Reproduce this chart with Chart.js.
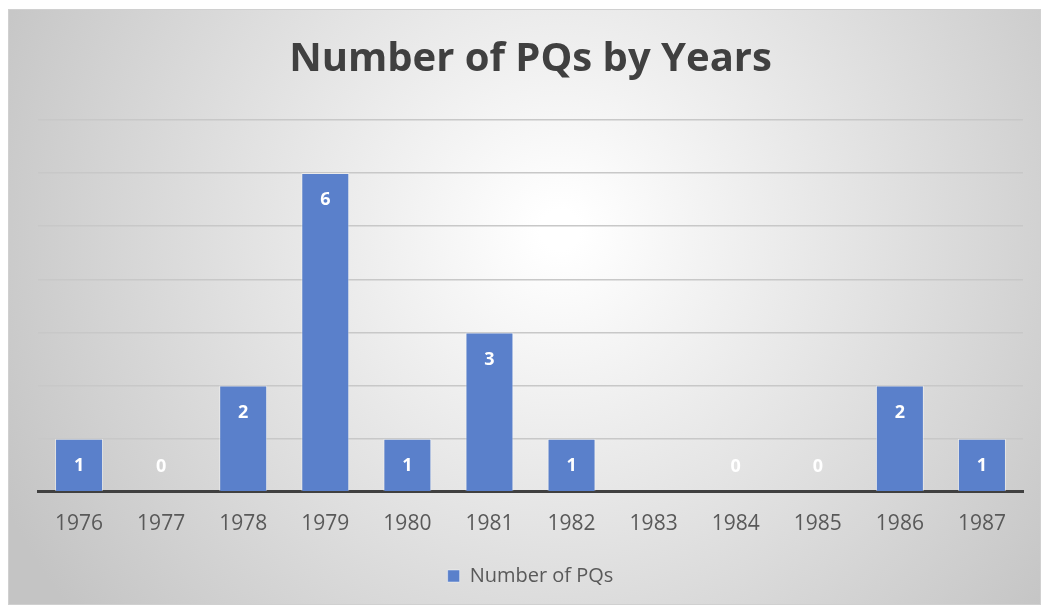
<!DOCTYPE html>
<html>
<head>
<meta charset="utf-8">
<script src="https://cdn.jsdelivr.net/npm/chart.js@4.4.0/dist/chart.umd.min.js"></script>
<style>
  html, body { margin: 0; padding: 0; background: #fff; }
  #wrap { width: 1045px; height: 607px; position: relative; }
</style>
</head>
<body>
<div id="wrap"><canvas id="chart"></canvas></div>
<script>
// data
var years = ['1976','1977','1978','1979','1980','1981','1982','1983','1984','1985','1986','1987'];
var pqCounts = [1, 0, 2, 6, 1, 3, 1, null, 0, 0, 2, 1];
var seriesName = 'Number of PQs';
var chartTitle = 'Number of PQs by Years';

var FONT = "'Open Sans', 'Noto Sans', sans-serif";

// gray frame with a light centre, like the office chart style
var frameBg = {
    id: 'frameBg',
    beforeDraw: function(chart){
        var ctx = chart.ctx;
        var x0 = 8, y0 = 9, x1 = chart.width - 4, y1 = chart.height - 2;
        ctx.save();
        var g = ctx.createRadialGradient(560, 230, 20, 560, 230, 620);
        g.addColorStop(0, '#ffffff');
        g.addColorStop(1, '#c4c4c4');
        ctx.fillStyle = g;
        ctx.fillRect(x0, y0, x1 - x0, y1 - y0);
        ctx.strokeStyle = '#d0d0d0';
        ctx.lineWidth = 1;
        ctx.strokeRect(x0 + 0.5, y0 + 0.5, x1 - x0 - 1, y1 - y0 - 1);
        ctx.restore();
    }
};

// white value labels inside the bar ends
var valueLabels = {
    id: 'valueLabels',
    afterDatasetsDraw: function(chart){
        var ctx = chart.ctx;
        var meta = chart.getDatasetMeta(0);
        var ys = chart.scales.y;
        ctx.save();
        ctx.fillStyle = '#ffffff';
        ctx.font = 'bold 18px ' + FONT;
        ctx.textAlign = 'center';
        ctx.textBaseline = 'middle';
        meta.data.forEach(function(bar, i){
            var v = pqCounts[i];
            if(v === null) return;
            var base = ys.getPixelForValue(0);
            var top = ys.getPixelForValue(v);
            var y = v === 0 ? base - 25 : top + 27;
            ctx.fillText(String(v), bar.x, y);
        });
        ctx.restore();
    }
};

new Chart(document.getElementById('chart'), {
    type: 'bar',
    data: {
        labels: years,
        datasets: [{
            label: seriesName,
            data: pqCounts,
            backgroundColor: '#5a80cb',
            borderColor: 'rgba(255,255,255,0.45)',
            borderWidth: 1,
            barPercentage: 0.585,
            categoryPercentage: 1.0
        }]
    },
    options: {
        responsive: true,
        maintainAspectRatio: false,
        animation: false,
        layout: { padding: { left: 38, right: 22, top: 10, bottom: 11 } },
        plugins: {
            title: {
                display: true,
                text: chartTitle,
                color: '#404040',
                font: { family: FONT, size: 40, weight: 'bold' },
                padding: { top: 26, bottom: 36 }
            },
            legend: {
                position: 'bottom',
                labels: {
                    color: '#595959',
                    font: { family: FONT, size: 20 },
                    boxWidth: 12,
                    boxHeight: 12,
                    padding: 9
                }
            },
            tooltip: { enabled: false }
        },
        scales: {
            x: {
                grid: { display: false, drawTicks: false },
                border: { display: true, color: '#404040', width: 3 },
                ticks: { color: '#595959', font: { family: FONT, size: 21 }, padding: 20, maxRotation: 0 }
            },
            y: {
                min: 0,
                max: 7,
                ticks: { display: false, stepSize: 1 },
                grid: { color: '#c8c8c8', lineWidth: 1.5, drawTicks: false },
                border: { display: false }
            }
        }
    },
    plugins: [frameBg, valueLabels]
});
</script>
</body>
</html>
